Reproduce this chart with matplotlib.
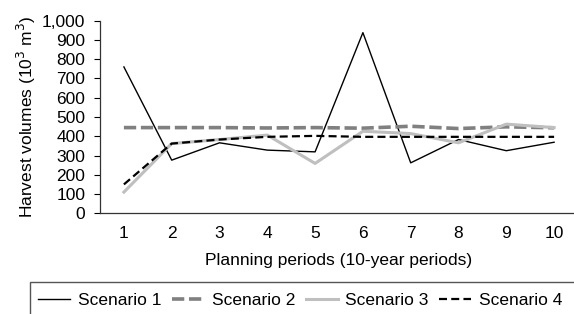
import matplotlib
matplotlib.use('Agg')
import matplotlib.pyplot as plt
from matplotlib.patches import Rectangle
from matplotlib.ticker import FuncFormatter

periods = [1, 2, 3, 4, 5, 6, 7, 8, 9, 10]
scenario_1 = [760, 276, 366, 328, 319, 938, 262, 383, 325, 369]
scenario_2 = [445, 445, 445, 443, 445, 442, 452, 440, 449, 444]
scenario_3 = [110, 362, 383, 406, 259, 426, 414, 366, 463, 445]
scenario_4 = [150, 362, 383, 397, 402, 397, 397, 397, 397, 397]
labels = ['Scenario 1', 'Scenario 2', 'Scenario 3', 'Scenario 4']

plt.rcParams['font.family'] = ['Liberation Sans', 'DejaVu Sans']
fs = 12.5

fig = plt.figure(figsize=(5.74, 3.14), dpi=100)
# axes box in pixels: x 100..578, y 21..213
ax = fig.add_axes([100 / 574, (314 - 213.3) / 314, 478 / 574, 192.6 / 314])

ax.plot(periods, scenario_1, color='black', lw=1.0, label=labels[0])
ax.plot(periods, scenario_2, color='#808080', lw=2.6, ls=(0, (3.4, 1.3)), label=labels[1])
ax.plot(periods, scenario_3, color='#bfbfbf', lw=2.2, label=labels[2])
ax.plot(periods, scenario_4, color='black', lw=1.6, ls=(0, (3.6, 1.9)), label=labels[3])

ax.set_xlim(0.5, 10.5)
ax.set_ylim(0, 1000)
ax.set_xticks(periods)
ax.set_yticks(range(0, 1001, 100))
ax.yaxis.set_major_formatter(FuncFormatter(lambda v, p: f'{int(v):,}'))
ax.tick_params(axis='x', length=0, labelsize=fs, pad=9)
ax.tick_params(axis='y', length=4, width=0.8, labelsize=fs, pad=6.5)
for s in ['top', 'right']:
    ax.spines[s].set_visible(False)
for s in ['left', 'bottom']:
    ax.spines[s].set_color('#333333')
    ax.spines[s].set_linewidth(0.9)

ax.set_xlabel('Planning periods (10-year periods)', fontsize=fs, labelpad=8.5)
ax.set_ylabel('Harvest volumes (10$^3$ m$^3$)', fontsize=fs, labelpad=3)

# legend frame running off the bottom/right edge
fig.patches.append(Rectangle((30 / 574, -0.1), 0.99, (314 - 282) / 314 + 0.1,
                             transform=fig.transFigure, fill=False,
                             edgecolor='#555555', lw=1.0))
fig.legend(loc='center left', bbox_to_anchor=(38 / 574, (314 - 300) / 314),
           ncol=4, frameon=False, fontsize=fs, handlelength=1.85,
           handletextpad=0.45, columnspacing=0.6, borderaxespad=0,
           borderpad=0)

fig.savefig('out.png', dpi=100)
